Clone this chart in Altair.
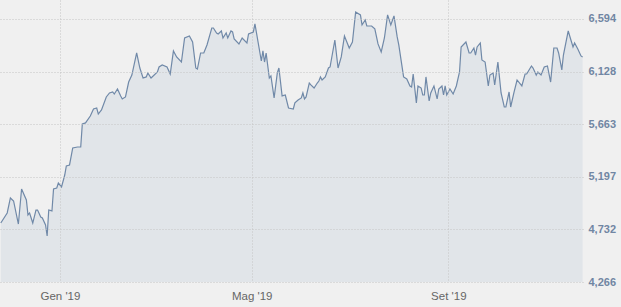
import altair as alt
import pandas as pd

dates = [
    "2018-11-25", "2018-11-29", "2018-12-01", "2018-12-03", "2018-12-06", "2018-12-08",
    "2018-12-11", "2018-12-12", "2018-12-13", "2018-12-15", "2018-12-17", "2018-12-18",
    "2018-12-20", "2018-12-21", "2018-12-23", "2018-12-24", "2018-12-25", "2018-12-27",
    "2018-12-28", "2018-12-30", "2018-12-31", "2019-01-02", "2019-01-04", "2019-01-05",
    "2019-01-07", "2019-01-09", "2019-01-12", "2019-01-14", "2019-01-15", "2019-01-17",
    "2019-01-20", "2019-01-22", "2019-01-24", "2019-01-25", "2019-01-27", "2019-01-30",
    "2019-02-01", "2019-02-03", "2019-02-04", "2019-02-06", "2019-02-08", "2019-02-09",
    "2019-02-11", "2019-02-13", "2019-02-15", "2019-02-18", "2019-02-20", "2019-02-22",
    "2019-02-24", "2019-02-25", "2019-02-27", "2019-03-03", "2019-03-04", "2019-03-06",
    "2019-03-09", "2019-03-11", "2019-03-13", "2019-03-15", "2019-03-18", "2019-03-20",
    "2019-03-23", "2019-03-25", "2019-03-27", "2019-03-28", "2019-03-30", "2019-04-01",
    "2019-04-03", "2019-04-06", "2019-04-07", "2019-04-09", "2019-04-10", "2019-04-12",
    "2019-04-13", "2019-04-15", "2019-04-16", "2019-04-18", "2019-04-19", "2019-04-20",
    "2019-04-23", "2019-04-25", "2019-04-28", "2019-04-29", "2019-05-02", "2019-05-03",
    "2019-05-07", "2019-05-08", "2019-05-09", "2019-05-10", "2019-05-12", "2019-05-13",
    "2019-05-15", "2019-05-17", "2019-05-18", "2019-05-20", "2019-05-22", "2019-05-24",
    "2019-05-27", "2019-05-28", "2019-05-30", "2019-06-01", "2019-06-02", "2019-06-03",
    "2019-06-04", "2019-06-06", "2019-06-07", "2019-06-09", "2019-06-11", "2019-06-12",
    "2019-06-13", "2019-06-14", "2019-06-16", "2019-06-18", "2019-06-19", "2019-06-22",
    "2019-06-24", "2019-06-26", "2019-06-28", "2019-07-01", "2019-07-03", "2019-07-05",
    "2019-07-08", "2019-07-09", "2019-07-11", "2019-07-12", "2019-07-15", "2019-07-17",
    "2019-07-19", "2019-07-21", "2019-07-23", "2019-07-25", "2019-07-27", "2019-07-29",
    "2019-07-31", "2019-08-01", "2019-08-04", "2019-08-06", "2019-08-08", "2019-08-09",
    "2019-08-10", "2019-08-12", "2019-08-13", "2019-08-15", "2019-08-16", "2019-08-17",
    "2019-08-18", "2019-08-20", "2019-08-21", "2019-08-23", "2019-08-25", "2019-08-26",
    "2019-08-28", "2019-08-29", "2019-08-30", "2019-08-31", "2019-09-02", "2019-09-04",
    "2019-09-06", "2019-09-08", "2019-09-09", "2019-09-12", "2019-09-14", "2019-09-15",
    "2019-09-17", "2019-09-18", "2019-09-19", "2019-09-21", "2019-09-22", "2019-09-24",
    "2019-09-26", "2019-09-27", "2019-09-29", "2019-09-30", "2019-10-02", "2019-10-04",
    "2019-10-06", "2019-10-07", "2019-10-09", "2019-10-10", "2019-10-12", "2019-10-14",
    "2019-10-17", "2019-10-19", "2019-10-20", "2019-10-23", "2019-10-24", "2019-10-26",
    "2019-10-27", "2019-10-29", "2019-10-31", "2019-11-02", "2019-11-04", "2019-11-06",
    "2019-11-08", "2019-11-09", "2019-11-11", "2019-11-12", "2019-11-15", "2019-11-18",
    "2019-11-19", "2019-11-21", "2019-11-23", "2019-11-24",
]

values = [
    4788, 4877, 5010, 4983, 4779, 5089,
    4992, 4859, 4877, 4788, 4903, 4903,
    4841, 4833, 4771, 4673, 4903, 4895,
    5089, 5098, 5142, 5107, 5213, 5293,
    5302, 5452, 5461, 5461, 5665, 5674,
    5735, 5797, 5806, 5753, 5789, 5904,
    5939, 5948, 5930, 5974, 5913, 5886,
    5904, 6036, 6098, 6293, 6160, 6072,
    6081, 6116, 6072, 6125, 6169, 6187,
    6169, 6107, 6311, 6258, 6213, 6426,
    6444, 6390, 6160, 6151, 6293, 6293,
    6364, 6514, 6514, 6470, 6461, 6488,
    6426, 6470, 6426, 6488, 6479, 6417,
    6373, 6426, 6382, 6461, 6479, 6550,
    6222, 6311, 6213, 6293, 6072, 6090,
    5895, 6116, 6160, 5913, 5921, 5806,
    5797, 5851, 5877, 5895, 5939, 5886,
    5904, 6027, 6010, 5983, 6027, 6045,
    6081, 6054, 6081, 6160, 6169, 6408,
    6160, 6258, 6444, 6337, 6390, 6656,
    6630, 6541, 6585, 6532, 6532, 6506,
    6373, 6302, 6426, 6630, 6541, 6621,
    6435, 6364, 6081, 6063, 6001, 5992,
    6107, 5851, 6001, 5983, 5921, 5921,
    6081, 5868, 5939, 6001, 5886, 5974,
    6001, 5921, 6001, 5921, 5974, 5930,
    6001, 6125, 6346, 6390, 6293, 6293,
    6337, 6275, 6346, 6382, 6231, 6213,
    6001, 6098, 6116, 6010, 6213, 5939,
    5815, 5815, 5948, 5815, 5939, 6054,
    6001, 6107, 6107, 6178, 6160, 6098,
    6125, 6098, 6169, 6178, 6036, 6337,
    6337, 6293, 6143, 6275, 6488, 6346,
    6382, 6329, 6267, 6258,
]

y_ticks = [4266, 4732, 5197, 5663, 6128, 6594]
x_tick_dates = [(2019, 1, 1), (2019, 5, 1), (2019, 9, 1)]
month_names = ["Gen", "Feb", "Mar", "Apr", "Mag", "Giu", "Lug", "Ago", "Set", "Ott", "Nov", "Dic"]

df = pd.DataFrame({"date": dates, "value": values})

label_expr = (
    "[" + ",".join("'%s'" % m for m in month_names) + "][month(datum.value)]"
    " + \" '\" + timeFormat(datum.value, '%y')"
)

chart = (
    alt.Chart(df)
    .mark_area(
        color="#e1e5e9",
        opacity=1,
        clip=True,
        line={"color": "#7089a8", "strokeWidth": 1.2},
    )
    .encode(
        x=alt.X(
            "date:T",
            scale=alt.Scale(
                domain=[
                    alt.DateTime(year=2018, month=11, date=24, hours=12),
                    alt.DateTime(year=2019, month=11, date=24, hours=6),
                ]
            ),
            axis=alt.Axis(
                title=None,
                values=[alt.DateTime(year=y, month=m, date=d) for (y, m, d) in x_tick_dates],
                labelExpr=label_expr,
                grid=True,
                gridColor="#c4c4c4",
                gridDash=[1, 2],
                ticks=False,
                domain=False,
                labelColor="#666666",
                labelFont="Liberation Sans",
                labelFontSize=11.5,
                labelPadding=8,
                zindex=1,
            ),
        ),
        y=alt.Y(
            "value:Q",
            scale=alt.Scale(domain=[4266, 6762], nice=False, zero=False),
            axis=alt.Axis(
                title=None,
                orient="right",
                values=y_ticks,
                format=",d",
                grid=True,
                gridColor="#c4c4c4",
                gridDash=[1, 2],
                ticks=False,
                domain=False,
                labelColor="#7186a3",
                labelFont="Liberation Sans",
                labelFontSize=11,
                labelFontWeight="bold",
                labelPadding=5,
                labelBaseline="middle",
                labelAlign="left",
                zindex=1,
            ),
        ),
    )
    .properties(
        width=583,
        height=282,
        autosize="none",
        padding={"left": 0, "top": 0, "right": 38, "bottom": 25},
        background="#f0f0f0",
    )
    .configure_view(stroke=None, fill="#f0f0f0")
)

chart.save("out.html", embed_options={"renderer": "svg", "actions": False})
